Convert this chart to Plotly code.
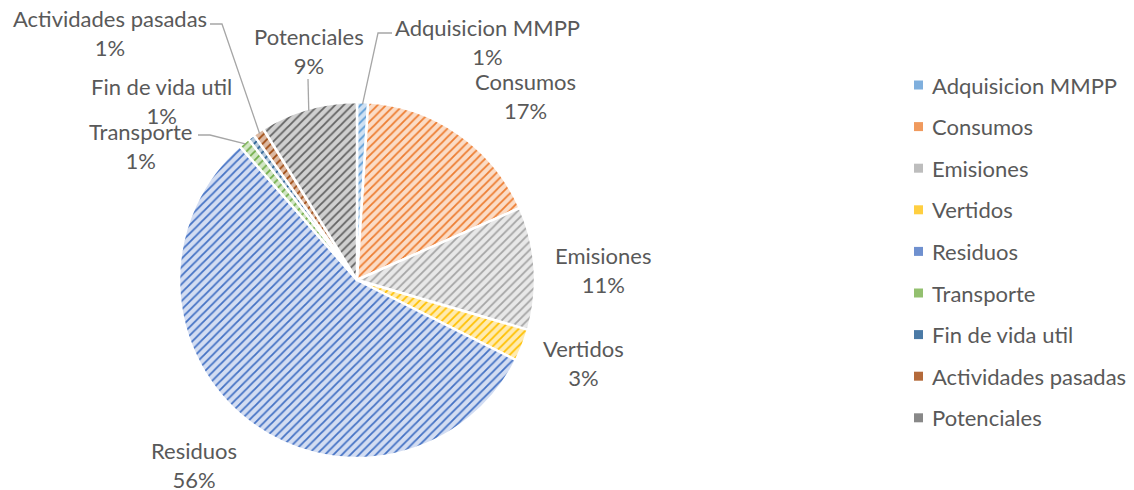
import math
import plotly.graph_objects as go

# ---- data ----
categories = ["Adquisicion MMPP", "Consumos", "Emisiones", "Vertidos", "Residuos",
              "Transporte", "Fin de vida util", "Actividades pasadas", "Potenciales"]
values = [1.0, 17.3, 11.1, 2.9, 55.9, 1.0, 0.6, 1.0, 8.8]

# ---- styles ----
line_colors = ["#5B9BD5", "#ED7D31", "#A5A5A5", "#FFC000", "#4472C4",
               "#70AD47", "#255E91", "#9E480E", "#636363"]
bg_colors = ["#CFE1F3", "#FBDCC6", "#E8E8E8", "#FFEBB0", "#D3DDF2",
             "#D2E6C4", "#B6C9DC", "#DCB9A2", "#D0D0D0"]
legend_colors = ["#7FAFDD", "#F09A5E", "#BDBDBD", "#FFCF40", "#6F90CF",
                 "#93C06F", "#4B7AA6", "#B46A3A", "#888888"]

# page has an 8px body margin, so the figure starts at (8, 8)
OFF = 8
W, H = 1134 - OFF, 490 - OFF
CX, CY, R = 357, 280, 178
FONT = "Lato"
TXT = "#595959"
FS = 22


def px(x):
    return (x - OFF) / W


def py(y):
    return 1 - (y - OFF) / H


fig = go.Figure()
fig.add_trace(go.Pie(
    labels=categories, values=values, sort=False, direction="clockwise",
    rotation=0, textinfo="none", hoverinfo="label+percent", showlegend=False,
    domain=dict(x=[px(CX - R), px(CX + R)], y=[py(CY + R), py(CY - R)]),
    marker=dict(colors=bg_colors,
                line=dict(color="white", width=2.5),
                pattern=dict(shape="/", fgcolor=line_colors, bgcolor=bg_colors,
                             size=6, solidity=0.3, fillmode="replace")),
))

total = sum(values)
pcts = [round(v / total * 100) for v in values]

# label positions (layout: text centers of line 1)
label_pos = {
    "Adquisicion MMPP": (487, 27),
    "Consumos": (525, 81),
    "Emisiones": (603, 255),
    "Vertidos": (583, 348),
    "Residuos": (194, 450),
    "Transporte": (140, 131),
    "Fin de vida util": (162, 86),
    "Actividades pasadas": (110, 18),
    "Potenciales": (309, 36),
}
LINE_H = 29.5
for cat, p in zip(categories, pcts):
    x, y = label_pos[cat]
    fig.add_annotation(x=px(x), y=py(y + LINE_H / 2), xref="paper", yref="paper",
                       text=f"{cat}<br>{p}%", showarrow=False,
                       xanchor="center", yanchor="middle", align="center",
                       font=dict(family=FONT, size=FS, color=TXT))

# leader lines: label-side points (layout), slice end computed from data
leader = {
    "Adquisicion MMPP": [(392, 33), (378, 33)],
    "Potenciales": [(308, 79)],
    "Actividades pasadas": [(210, 24), (222, 24)],
    "Transporte": [(198, 135), (210, 135)],
}
cum = 0
mids = {}
for cat, v in zip(categories, values):
    mids[cat] = (cum + v / 2) / total * 2 * math.pi
    cum += v
for cat, pts in leader.items():
    a = mids[cat]
    ex, ey = CX + (R - 2) * math.sin(a), CY - (R - 2) * math.cos(a)
    path_pts = pts + [(ex, ey)]
    d = "M " + " L ".join(f"{px(x)},{py(y)}" for x, y in path_pts)
    fig.add_shape(type="path", path=d, xref="paper", yref="paper",
                  line=dict(color="#A6A6A6", width=1.3))

# manual legend
LX, LY0, LSTEP = 918.5, 85, 41.6
for i, (cat, c) in enumerate(zip(categories, legend_colors)):
    y = LY0 + i * LSTEP
    fig.add_shape(type="rect", xref="paper", yref="paper",
                  x0=px(LX - 4.5), x1=px(LX + 4.5), y0=py(y + 4.5), y1=py(y - 4.5),
                  fillcolor=c, line=dict(width=0))
    fig.add_annotation(x=px(930), y=py(y), xref="paper", yref="paper",
                       text=cat, showarrow=False, xanchor="left", yanchor="middle",
                       font=dict(family=FONT, size=FS, color=TXT))

fig.update_layout(width=W, height=H, margin=dict(l=0, r=0, t=0, b=0),
                  paper_bgcolor="white", plot_bgcolor="white")
fig.write_html("out.html")
